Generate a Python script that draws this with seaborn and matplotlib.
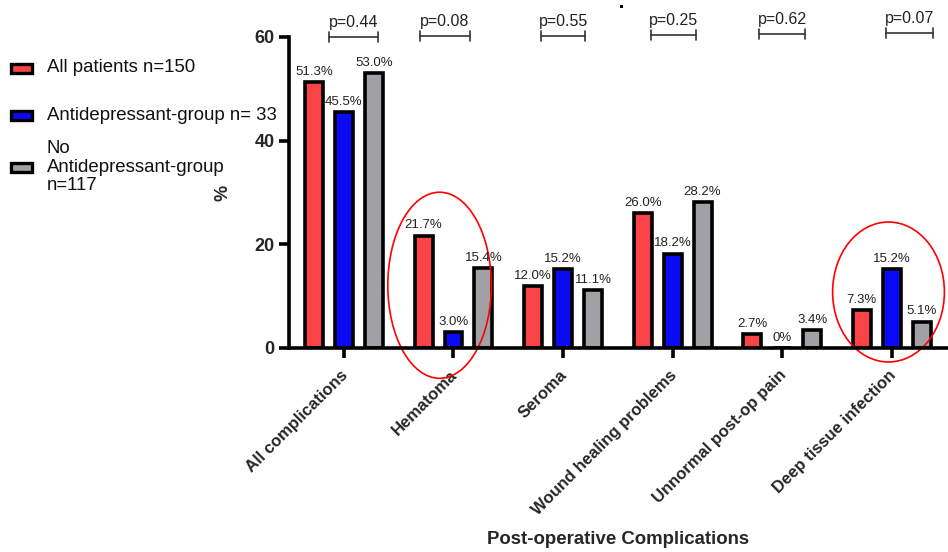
import matplotlib
matplotlib.use("Agg")
import matplotlib.pyplot as plt
import matplotlib.transforms as mtransforms
import seaborn as sns
import pandas as pd
import numpy as np
from matplotlib.patches import Ellipse, Rectangle

categories = ["All complications", "Hematoma", "Seroma", "Wound healing problems",
              "Unnormal post-op pain", "Deep tissue infection"]
groups = ["All patients n=150", "Antidepressant-group n= 33", "No\nAntidepressant-group\nn=117"]
all_patients = [51.3, 21.7, 12.0, 26.0, 2.7, 7.3]
antidep = [45.5, 3.0, 15.2, 18.2, 0.0, 15.2]
no_antidep = [53.0, 15.4, 11.1, 28.2, 3.4, 5.1]
p_values = ["p=0.44", "p=0.08", "p=0.55", "p=0.25", "p=0.62", "p=0.07"]
bracket_left = [-0.14, -0.31, -0.20, -0.20, -0.21, -0.05]
bracket_right = [0.31, 0.15, 0.20, 0.21, 0.21, 0.38]
bracket_y = [60.0, 60.2, 60.2, 60.4, 60.6, 60.8]
colors = ["#F94346", "#0A0AF5", "#A1A0A5"]
legend_y_px = [68, 115, 167]

rows = []
for g, vals in zip(groups, [all_patients, antidep, no_antidep]):
    for c, v in zip(categories, vals):
        rows.append({"cat": c, "group": g, "val": v})
df = pd.DataFrame(rows)

sns.set_style("white")
plt.rcParams["font.family"] = ["Liberation Sans", "DejaVu Sans"]

W, H = 948, 552
fig = plt.figure(figsize=(W / 100, H / 100), dpi=100)
ax = fig.add_axes([0.305, 0.3696, 0.6935, 0.5634])

sns.barplot(data=df, x="cat", y="val", hue="group", palette=colors, width=0.82, gap=0.4,
            edgecolor="black", linewidth=2.6, ax=ax, legend=False, saturation=1)

for cont in ax.containers:
    labels = [("0%" if v == 0 else f"{v:.1f}%") for v in cont.datavalues]
    ax.bar_label(cont, labels=labels, padding=3, fontsize=9.5, color="#222222")

ax.set_xlim(-0.5, 5.5)
ax.set_ylim(0, 60)
ax.set_yticks([0, 20, 40, 60])
for s in ["top", "right"]:
    ax.spines[s].set_visible(False)
for s in ["left", "bottom"]:
    ax.spines[s].set_linewidth(2.6)
    ax.spines[s].set_color("black")
ax.tick_params(axis="both", which="major", length=7, width=2.6, direction="out",
               bottom=True, left=True, color="black")
ax.set_xticks(range(len(categories)))
ax.set_xticklabels(categories, rotation=45, ha="right", rotation_mode="anchor",
                   fontsize=12, fontweight="bold")
offset = mtransforms.ScaledTranslation(-4 / 100, -5 / 100, fig.dpi_scale_trans)
for lab in ax.get_xticklabels():
    lab.set_transform(lab.get_transform() + offset)
for lab in ax.get_yticklabels():
    lab.set_fontweight("bold")
    lab.set_fontsize(13)
ax.set_xlabel("Post-operative Complications", fontsize=13.4, fontweight="bold")
ax.xaxis.set_label_coords(0.5, -0.615)
ax.xaxis.label.set_va("center")
ax.set_ylabel("%", fontsize=13, fontweight="bold")
ax.yaxis.set_label_coords(-0.087, 0.50)

# p-value brackets
for i, p in enumerate(p_values):
    x0, x1, y = i + bracket_left[i], i + bracket_right[i], bracket_y[i]
    ax.plot([x0, x1], [y, y], color="#333333", lw=1.2, clip_on=False)
    ax.plot([x0, x0], [y - 1.0, y + 1.0], color="#333333", lw=1.2, clip_on=False)
    ax.plot([x1, x1], [y - 1.0, y + 1.0], color="#333333", lw=1.2, clip_on=False)
    ax.text((x0 + x1) / 2, y + 1.3, p, ha="center", va="bottom", fontsize=11.5,
            color="#222222", clip_on=False)

# red ellipses
ax.add_patch(Ellipse((0.873, 12.1), 0.945, 35.9, fill=False, edgecolor="red", lw=1.2, clip_on=False))
ax.add_patch(Ellipse((4.97, 10.8), 1.02, 27.0, fill=False, edgecolor="red", lw=1.2, clip_on=False))

# small stray mark at top
fig.add_artist(Rectangle((620 / W, 1 - 8 / H), 3 / W, 3 / H, transform=fig.transFigure,
                         facecolor="black", edgecolor="none"))

# legend (manual, to match spacing; multi-line labels drawn line by line)
line_h = 18.5
for g, c, ypx in zip(groups, colors, legend_y_px):
    fig.add_artist(Rectangle((11 / W, 1 - (ypx + 5) / H), 21 / W, 9 / H,
                             transform=fig.transFigure, facecolor=c,
                             edgecolor="black", linewidth=2.4))
    lines = g.split("\n")
    n = len(lines)
    for k, line in enumerate(lines):
        ly = ypx + (k - (n - 1) / 2) * line_h
        fig.text(47 / W, 1 - ly / H, line, ha="left", va="center", fontsize=13.4,
                 color="#111111")

fig.savefig("out.png", dpi=100)
